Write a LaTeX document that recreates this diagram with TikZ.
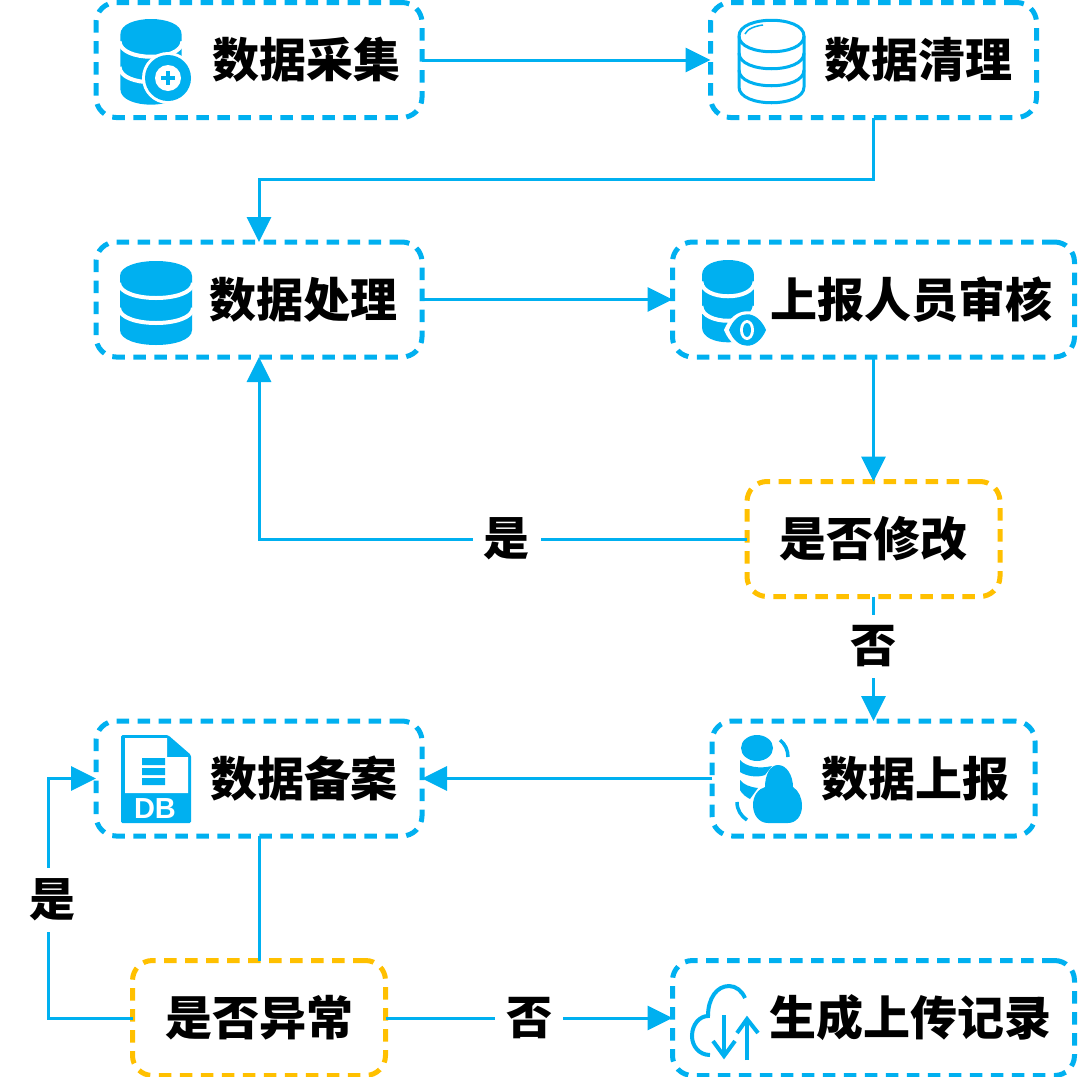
\documentclass[tikz,border=0pt]{standalone}
\usepackage{fontspec}
\setmainfont{Noto Sans CJK SC}
\setsansfont{Liberation Sans}
\usetikzlibrary{arrows.meta,positioning,calc}
\definecolor{flowblue}{HTML}{00B0F0}
\definecolor{flowyellow}{HTML}{FFC000}
\newcommand{\dbstack}[4]{%
  \begin{scope}[shift={(#1,#2)}, xscale=#3, yscale=#4]
    \fill[flowblue] (-36,15) -- (-36,69) .. controls (-36,89) and (36,89) .. (36,69) -- (36,15)
      .. controls (36,-5) and (-36,-5) .. cycle;
    \draw[white, line width=4pt] (-37,22) .. controls (-36,42) and (36,42) .. (37,22);
    \draw[white, line width=4pt] (-37,47) .. controls (-36,67) and (36,67) .. (37,47);
  \end{scope}}
\begin{document}
\begin{tikzpicture}[
    x=1pt, y=-1pt,
    node distance=124.5pt,
    flowbox/.style={rectangle, rounded corners=20pt, draw=flowblue, line width=5pt, dash pattern=on 12.5pt off 8.5pt, minimum height=115pt, outer sep=0pt, inner sep=0pt, font=\fontsize{47}{47}\selectfont\bfseries},
    checkbox/.style={flowbox, draw=flowyellow, minimum width=253pt},
    flowlabel/.style={fill=white, inner sep=11pt, font=\fontsize{46}{46}\selectfont\bfseries},
    link/.style={draw=flowblue, line width=3pt},
    >={Triangle[length=25pt,width=24pt]}
]
\path[use as bounding box, fill=white] (0,0) rectangle (1080,1077);

\node[flowbox, minimum width=326pt] at (259,60) (a) {\hspace{94pt}数据采集};
\node[flowbox, minimum width=326pt, right=288.5pt of a] (b) {\hspace{90pt}数据清理};
\node[flowbox, minimum width=326pt, below=of a] (c) {\hspace{89pt}数据处理};
\node[flowbox, minimum width=402pt, below=of b] (d) {\hspace{76pt}上报人员审核};
\node[checkbox, below=of d] (e) {是否修改};
\node[flowbox, minimum width=323pt, below=of e] (f) {\hspace{84pt}数据上报};
\node[flowbox, minimum width=326pt, below=364pt of c] (g) {\hspace{90pt}数据备案};
\node[checkbox, below=of g] (h) {是否异常};
\node[flowbox, minimum width=402pt, below=of f] (i) {\hspace{74pt}生成上传记录};
\coordinate (turn) at (48,900);

\draw[link, ->] (a) -- (b);
\draw[link, ->] (b.south) -- ++(0,62) -| (c.north);
\draw[link, ->] (c) -- (d);
\draw[link, ->] (d) -- (e);
\draw[link, ->] (e.west) -| node[flowlabel, pos=0.246] (yes1) {是} (c.south);
\draw[link, ->] (e) -- node[flowlabel, pos=0.4] (no1) {否} (f);
\draw[link, ->] (f) -- (g);
\draw[link] (g) -- (h);
\draw[link, ->] (h.west) -| (turn) |- (g.west);
\draw[link, ->] (h) -- node[flowlabel] (no2) {否} (i);
\node[flowlabel] at (52,900) (yes2) {是};

\dbstack{151}{19}{0.85}{1.02}
\fill[white] (168,78) circle (26);
\fill[flowblue] (168,78) circle (23);
\fill[white] (168,78) circle (13);
\draw[flowblue, line width=3.5pt] (161,78) -- (175,78) (168,71) -- (168,85);

\begin{scope}[flowblue, line width=3pt]
  \draw (739,36) .. controls (739,15) and (804,15) .. (804,36) -- (804,87)
    .. controls (804,108) and (739,108) .. (739,87) -- cycle;
  \draw (739,36) .. controls (739,57) and (804,57) .. (804,36);
  \draw (739,53) .. controls (739,74) and (804,74) .. (804,53);
  \draw (739,70) .. controls (739,91) and (804,91) .. (804,70);
  \draw[line width=1.5pt] (745,34) .. controls (747,29) and (755,26) .. (763,25);
\end{scope}

\dbstack{156}{261}{1}{1}

\dbstack{728}{260}{0.72}{0.98}
\fill[white] (724,330) .. controls (734,305) and (760,305) .. (771,330) .. controls (760,355) and (734,355) .. cycle;
\fill[flowblue] (729,330) .. controls (737,309) and (757,309) .. (766,330) .. controls (757,351) and (737,351) .. cycle;
\fill[white] (747,330) ellipse [x radius=7, y radius=10];
\fill[flowblue] (747,330) ellipse [x radius=4, y radius=7];

\begin{scope}[flowblue]
  \fill (757,748) ellipse [x radius=16, y radius=13];
  \fill (740,760) .. controls (746,767) and (760,769) .. (772,766) -- (765,775) .. controls (757,778) and (746,776) .. (740,772) -- cycle;
  \fill (740,780) .. controls (744,785) and (750,787) .. (758,788) -- (750,799) .. controls (746,797) and (742,794) .. (740,790) -- cycle;
  \draw[line width=3.5pt] (737,802) .. controls (737,810) and (741,816) .. (747,820);
  \draw[line width=3.5pt] (780,740) .. controls (785,744) and (788,750) .. (788,757);
  \fill (778,765) .. controls (787,765) and (793,776) .. (793,787) .. controls (799,791) and (802,798) .. (802,806)
    .. controls (802,816) and (796,823) .. (788,823) -- (768,823) .. controls (759,823) and (753,815) .. (753,805)
    .. controls (753,796) and (758,789) .. (765,787) .. controls (765,775) and (770,765) .. (778,765) -- cycle;
\end{scope}

\fill[flowblue, rounded corners=1.5pt] (121,735) -- (168,735) -- (191,755) -- (191,823) -- (121,823) -- cycle;
\fill[white] (125,738) -- (167,738) -- (167,757) -- (188,757) -- (188,793) -- (125,793) -- cycle;
\fill[flowblue] (142,758) rectangle (165,765) (142,768) rectangle (165,775) (142,778) rectangle (165,785);
\node[white, inner sep=0pt, font=\sffamily\bfseries\fontsize{29}{29}\selectfont] at (155,809) (dbname) {DB};

\begin{scope}[flowblue, line width=4pt]
  \draw (710,1055) .. controls (699,1055) and (692,1046) .. (692,1036) .. controls (692,1024) and (700,1016) .. (708,1016)
    .. controls (708,998) and (717,986) .. (729,986) .. controls (736,986) and (742,991) .. (745,998);
  \draw (724,1015) -- (724,1056);
  \draw (713,1041) -- (724,1056) -- (735,1041);
  \draw (747,1060) -- (747,1019);
  \draw (737,1033) -- (747,1019) -- (758,1033);
\end{scope}
\end{tikzpicture}
\end{document}
